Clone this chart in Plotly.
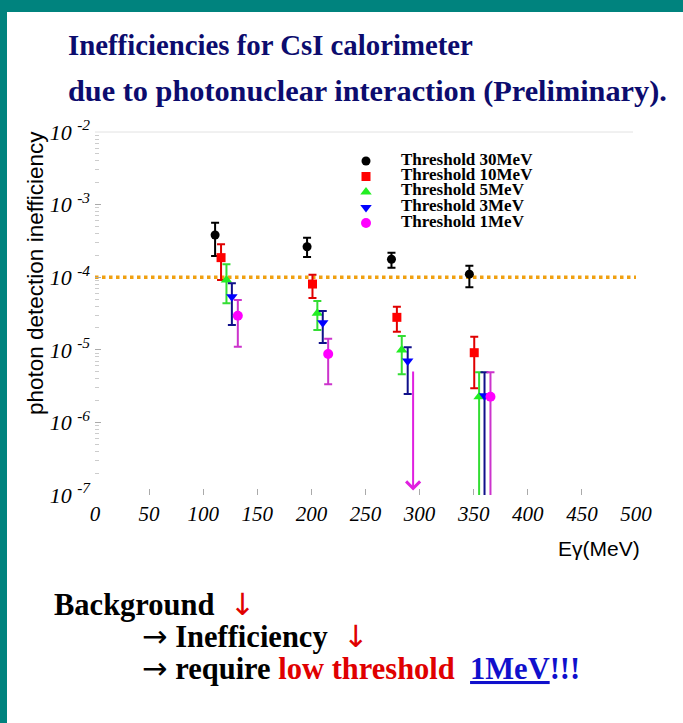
import math
import plotly.graph_objects as go

# ---------------- data ----------------
series_names = ["Threshold 30MeV", "Threshold 10MeV", "Threshold 5MeV",
                "Threshold 3MeV", "Threshold 1MeV"]

x_30 = [111, 196, 274, 346]
y_30 = [3.81e-4, 2.63e-4, 1.77e-4, 1.10e-4]
hi_30 = [5.64e-4, 3.50e-4, 2.18e-4, 1.44e-4]
lo_30 = [1.96e-4, 1.90e-4, 1.35e-4, 7.26e-5]

x_10 = [116.5, 201, 279, 350.5]
y_10 = [1.86e-4, 8.05e-5, 2.80e-5, 9.12e-6]
hi_10 = [2.84e-4, 1.08e-4, 3.93e-5, 1.51e-5]
lo_10 = [9.14e-5, 5.16e-5, 1.77e-5, 2.95e-6]

x_5 = [121.5, 205.5, 283.5, 355]
y_5 = [9.14e-5, 3.18e-5, 9.93e-6, 2.26e-6]
hi_5 = [1.51e-4, 4.70e-5, 1.55e-5, 4.90e-6]
lo_5 = [4.37e-5, 1.87e-5, 4.61e-6, 1e-9]

x_3 = [126.5, 210.5, 289, 360]
y_3 = [5.38e-5, 2.36e-5, 7.01e-6, 2.33e-6]
hi_3 = [8.24e-5, 3.42e-5, 1.08e-5, 4.90e-6]
lo_3 = [2.20e-5, 1.24e-5, 2.46e-6, 1e-9]

x_1 = [132, 215.5, 294, 365.5]
y_1 = [2.95e-5, 8.75e-6, None, 2.26e-6]
hi_1 = [4.85e-5, 1.42e-5, None, 4.90e-6]
lo_1 = [1.10e-5, 3.35e-6, None, 1e-9]

# upper limit (1MeV at ~294 MeV)
limit_x = 294
limit_from = 5.27e-6
limit_to = 1.15e-7

reference_level = 1e-4

x_ticks = [0, 50, 100, 150, 200, 250, 300, 350, 400, 450, 500]
y_exponents = [-7, -6, -5, -4, -3, -2]

# ---------------- layout constants ----------------
W, H = 683, 723
L, R, T, B = 95, 636, 132, 495


def px(x):
    return (x - L) / (R - L)


def py(y):
    return (B - y) / (B - T)


styles = [
    dict(symbol="circle", size=9, color="#000000", err="#000000"),
    dict(symbol="square", size=9, color="#ff0000", err="#e00000"),
    dict(symbol="triangle-up", size=10, color="#22ee22", err="#33dd33"),
    dict(symbol="triangle-down", size=10, color="#0000ff", err="#10108a"),
    dict(symbol="circle", size=10, color="#ff00ff", err="#cc33cc"),
]

all_series = [
    (x_30, y_30, hi_30, lo_30),
    (x_10, y_10, hi_10, lo_10),
    (x_5, y_5, hi_5, lo_5),
    (x_3, y_3, hi_3, lo_3),
    (x_1, y_1, hi_1, lo_1),
]

fig = go.Figure()

# reference level dotted line
fig.add_trace(go.Scatter(
    x=[x_ticks[0], x_ticks[-1]], y=[reference_level, reference_level],
    mode="lines", line=dict(color="#f0a010", width=3.5, dash="dot"),
    showlegend=False, hoverinfo="skip"))

for name, (xs, ys, his, los), st in zip(series_names, all_series, styles):
    xx, yy, plus, minus = [], [], [], []
    for x, y, h, l in zip(xs, ys, his, los):
        if y is None:
            continue
        xx.append(x)
        yy.append(y)
        plus.append(h - y)
        minus.append(y - l)
    fig.add_trace(go.Scatter(
        x=xx, y=yy, mode="markers", name=name, showlegend=False,
        marker=dict(symbol=st["symbol"], size=st["size"], color=st["color"],
                    line=dict(width=0)),
        error_y=dict(type="data", symmetric=False, array=plus, arrayminus=minus,
                     color=st["err"], thickness=2, width=4),
    ))

# custom legend (markers on an overlay axis in plot-fraction units)
leg_rows = [161, 176.5, 192, 207.5, 223]
for name, st, ry in zip(series_names, styles, leg_rows):
    fig.add_trace(go.Scatter(
        x=[px(366)], y=[py(ry)], mode="markers", xaxis="x2", yaxis="y2",
        marker=dict(symbol=st["symbol"], size=st["size"], color=st["color"]),
        showlegend=False, hoverinfo="skip"))
    fig.add_annotation(
        x=px(399), y=py(ry - 2), xref="paper", yref="paper", text=name,
        showarrow=False, xanchor="left", yanchor="middle",
        font=dict(family="Liberation Serif", size=17, color="black", weight="bold"))

# upper-limit arrow
fig.add_annotation(
    x=limit_x, y=math.log10(limit_to), ax=limit_x, ay=math.log10(limit_from),
    xref="x", yref="y", axref="x", ayref="y", text="", showarrow=True,
    arrowhead=4, arrowsize=1.35, arrowwidth=2, arrowcolor="#e020e0", standoff=0,
    startstandoff=0)

serif = "Liberation Serif"

# frame: teal bands
teal = "#00837e"
fig.add_shape(type="rect", xref="paper", yref="paper", x0=px(0), x1=px(W),
              y0=py(12), y1=py(0), fillcolor=teal, line=dict(width=0), layer="below")
fig.add_shape(type="rect", xref="paper", yref="paper", x0=px(0), x1=px(7),
              y0=py(H), y1=py(0), fillcolor=teal, line=dict(width=0), layer="below")
# top border line of the plot
fig.add_shape(type="line", xref="paper", yref="paper", x0=0, x1=px(633), y0=1, y1=1,
              line=dict(color="#e2e2e2", width=1))

navy = "#0c0c6e"
fig.add_annotation(x=px(66), y=py(45), xref="paper", yref="paper",
                   text="Inefficiencies for CsI calorimeter", showarrow=False,
                   xanchor="left", yanchor="middle",
                   font=dict(family=serif, size=28.8, color=navy, weight="bold"))
fig.add_annotation(x=px(66), y=py(91), xref="paper", yref="paper",
                   text="due to photonuclear interaction (Preliminary).", showarrow=False,
                   xanchor="left", yanchor="middle",
                   font=dict(family=serif, size=30.3, color=navy, weight="bold"))

# axis titles
fig.add_annotation(x=px(35), y=py(273), xref="paper", yref="paper",
                   text="photon detection inefficiency", textangle=-90, showarrow=False,
                   xanchor="center", yanchor="middle",
                   font=dict(family="Liberation Sans", size=22.5, color="black"))
fig.add_annotation(x=px(642), y=py(548), xref="paper", yref="paper",
                   text="Eγ(MeV)", showarrow=False, xanchor="right", yanchor="middle",
                   font=dict(family="Liberation Sans", size=21, color="black"))

# bottom text
bfont = dict(family=serif, size=30.5, color="black", weight="bold")
arrow_r = "<span style='font-family:DejaVu Sans;font-weight:normal'>→</span>"
down_r = ("<span style='color:#e00000;font-family:DejaVu Sans;"
          "font-weight:normal'>↓</span>")
fig.add_annotation(x=px(52), y=py(604), xref="paper", yref="paper",
                   text="Background  " + down_r,
                   showarrow=False, xanchor="left", yanchor="middle", font=bfont)
fig.add_annotation(x=px(140), y=py(636), xref="paper", yref="paper",
                   text=arrow_r + " Inefficiency  " + down_r,
                   showarrow=False, xanchor="left", yanchor="middle", font=bfont)
fig.add_annotation(x=px(140), y=py(668), xref="paper", yref="paper",
                   text=arrow_r + " require <span style='color:#e00000'>low threshold</span>  "
                        "<span style='color:#1010cc'><u>1MeV</u>!!!</span>",
                   showarrow=False, xanchor="left", yanchor="middle", font=bfont)

minor_vals = [k * 10 ** e for e in range(-7, -2) for k in range(2, 10)]

fig.update_layout(
    width=W, height=H,
    margin=dict(l=L, r=W - R, t=T, b=H - B, pad=0),
    paper_bgcolor="white", plot_bgcolor="white",
    showlegend=False,
    xaxis=dict(range=[x_ticks[0], x_ticks[-1]], tickmode="array", tickvals=x_ticks,
               ticktext=[str(v) for v in x_ticks],
               ticks="inside", ticklen=6, tickcolor="#aaaaaa", tickwidth=1,
               showgrid=False, zeroline=False, showline=False,
               tickfont=dict(family=serif, size=21, color="black", style="italic"),
               ticklabelstandoff=4),
    yaxis=dict(type="log", range=[y_exponents[0], y_exponents[-1]], tickmode="array",
               tickvals=[10 ** e for e in y_exponents],
               ticktext=[f"10 <sup>{e}</sup>" for e in y_exponents],
               ticks="inside", ticklen=6, tickcolor="#aaaaaa", tickwidth=1,
               minor=dict(tickvals=minor_vals, ticks="inside", ticklen=4,
                          tickcolor="#cccccc", showgrid=False),
               showgrid=False, zeroline=False, showline=False,
               tickfont=dict(family=serif, size=22, color="black", style="italic"),
               ticklabelstandoff=4),
    xaxis2=dict(overlaying="x", range=[0, 1], visible=False, fixedrange=True),
    yaxis2=dict(overlaying="y", range=[0, 1], visible=False, fixedrange=True),
)

fig.write_html("out.html")
